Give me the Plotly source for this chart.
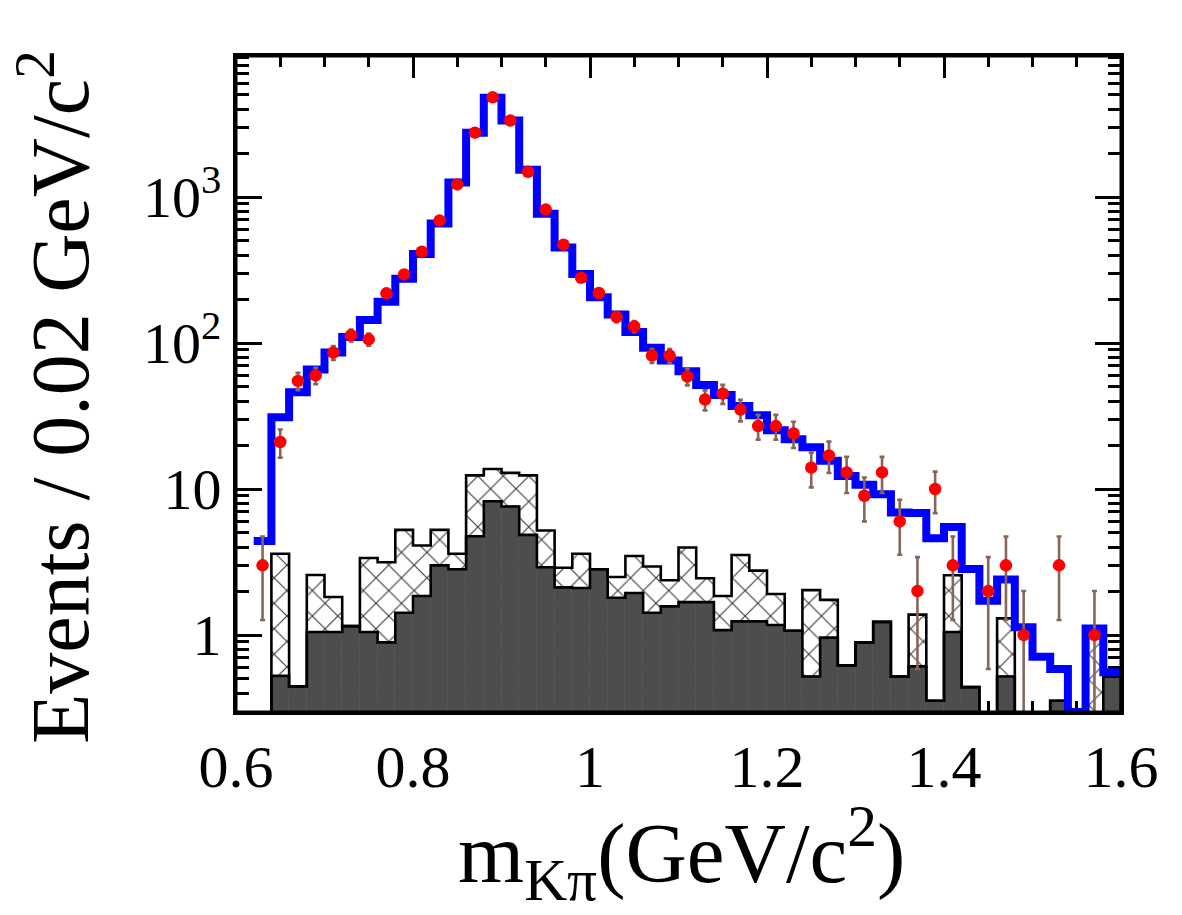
import math
import plotly.graph_objects as go

# ---------------- data ----------------
BIN_W = 0.02
bin_centers = [0.63, 0.65, 0.67, 0.69, 0.71, 0.73, 0.75, 0.77, 0.79, 0.81,
               0.83, 0.85, 0.87, 0.89, 0.91, 0.93, 0.95, 0.97, 0.99, 1.01,
               1.03, 1.05, 1.07, 1.09, 1.11, 1.13, 1.15, 1.17, 1.19, 1.21,
               1.23, 1.25, 1.27, 1.29, 1.31, 1.33, 1.35, 1.37, 1.39, 1.41,
               1.43, 1.45, 1.47, 1.49, 1.51, 1.53, 1.55, 1.57, 1.59]

data_counts = [3, 21, 55, 60, 86, 113, 106, 219, 295, 422,
               690, 1220, 2760, 4820, 3340, 1490, 820, 472, 280, 220,
               151, 130, 82, 82, 59, 41, 45, 35, 27, 27,
               24, 14, 17, 13, 9, 13, 6, 2, 10, 3,
               0, 2, 3, 1, 0, 3, 0, 1, 0]

total_fit = [4.4, 31, 46, 66, 86, 110, 144, 192, 276, 408,
             658, 1260, 2760, 4790, 3340, 1540, 767, 451, 297, 206,
             157, 119, 93, 76, 64, 51.5, 44, 37, 32, 25.3,
             21.9, 19.3, 15.6, 12.3, 10.7, 9.2, 6.9, 6.85, 4.6, 5.5,
             2.83, 1.72, 2.4, 1.13, 0.71, 0.585, 0.297, 1.11, 0.555]

# stacked background total (hatched outline)
bkg_total = [0, 3.6, 0.445, 2.58, 1.82, 1.15, 3.37, 3.15, 5.25, 4.1,
             5.25, 3.6, 12.4, 13.7, 12.9, 12.4, 5.2, 2.89, 3.6, 2.82,
             2.5, 3.48, 2.95, 2.37, 3.98, 2.45, 1.85, 3.53, 2.76, 1.91,
             1.07, 2.03, 1.74, 0.62, 0.89, 1.23, 0.52, 1.38, 0.355, 2.57,
             0.44, 0, 1.3, 0, 0, 0.355, 0, 1.04, 0.52]

# dark filled background component
bkg_dark = [0, 0.525, 0.445, 1.05, 1.05, 1.15, 1.05, 0.89, 1.42, 1.85,
            3.0, 2.82, 4.75, 8.25, 7.6, 4.85, 2.91, 2.12, 2.1, 2.82,
            1.8, 1.94, 1.42, 1.57, 1.68, 1.68, 1.08, 1.24, 1.24, 1.17,
            1.07, 0.52, 0.96, 0.62, 0.89, 1.23, 0.52, 0.61, 0.355, 1.05,
            0.44, 0, 0.52, 0, 0, 0.355, 0, 0, 0.52]

x_tickvals = [0.6, 0.8, 1.0, 1.2, 1.4, 1.6]
x_ticktext = ["0.6", "0.8", "1", "1.2", "1.4", "1.6"]
y_tickvals = [1, 10, 100, 1000]
y_ticktext = ["1", "10", "10<sup>2</sup>", "10<sup>3</sup>"]

FLOOR = 1e-3


def step_xy(centers, vals, close=False):
    lefts = [round(c - BIN_W / 2, 4) for c in centers]
    right = round(centers[-1] + BIN_W / 2, 4)
    xs = lefts + [right]
    ys = [v if v > 0 else FLOOR for v in vals]
    ys = ys + [ys[-1]]
    if close:
        xs = [xs[0]] + xs + [right]
        ys = [FLOOR] + ys + [FLOOR]
    return xs, ys


fig = go.Figure()

# hatched (stacked total) background
fig.add_trace(go.Bar(
    x=bin_centers, y=[v if v > 0 else None for v in bkg_total], width=BIN_W,
    marker=dict(color="white",
                pattern=dict(shape="x", fgcolor="#3a3a3a", bgcolor="white",
                             size=18, solidity=0.12, fillmode="replace"),
                line=dict(width=0)),
    hoverinfo="skip"))

# dark background
fig.add_trace(go.Bar(
    x=bin_centers, y=[v if v > 0 else None for v in bkg_dark], width=BIN_W,
    marker=dict(color="#4d4d4d", line=dict(width=0.6, color="#4d4d4d")),
    hoverinfo="skip"))

# outlines
hx, hy = step_xy(bin_centers, bkg_total, close=True)
fig.add_trace(go.Scatter(x=hx, y=hy, mode="lines", line_shape="hv",
                         line=dict(color="black", width=2.6), hoverinfo="skip"))
dx, dy = step_xy(bin_centers, bkg_dark, close=True)
fig.add_trace(go.Scatter(x=dx, y=dy, mode="lines", line_shape="hv",
                         line=dict(color="black", width=2.6), hoverinfo="skip"))

# total fit (blue)
bx, by = step_xy(bin_centers, total_fit)
fig.add_trace(go.Scatter(x=bx, y=by, mode="lines", line_shape="hv",
                         line=dict(color="#0000ff", width=8), hoverinfo="skip"))

# data points
px, py, eu, ed = [], [], [], []
for c, n in zip(bin_centers, data_counts):
    if n > 0:
        e = math.sqrt(n)
        px.append(c)
        py.append(n)
        eu.append(e)
        ed.append(e if n - e > 0 else n - 1e-3)
fig.add_trace(go.Scatter(
    x=px, y=py, mode="markers",
    marker=dict(color="#ff0000", size=12.5, line=dict(width=0)),
    error_y=dict(type="data", array=eu, arrayminus=ed, symmetric=False,
                 color="#87665a", thickness=2.6, width=2.5),
    hoverinfo="skip"))

font_family = "Liberation Serif"

fig.update_layout(
    width=1182, height=915,
    margin=dict(l=236, r=61, t=56, b=203),
    paper_bgcolor="white", plot_bgcolor="white",
    showlegend=False, barmode="overlay", bargap=0,
    font=dict(family=font_family, color="black"),
    xaxis=dict(
        range=[0.6, 1.6], tickmode="array", tickvals=x_tickvals, ticktext=x_ticktext,
        ticks="inside", ticklen=22, tickwidth=2.5, tickcolor="black",
        showline=True, linecolor="black", linewidth=3, mirror="allticks",
        showgrid=False, zeroline=False, layer="below traces",
        tickfont=dict(family=font_family, size=60, color="black"),
        minor=dict(tickmode="array",
                   tickvals=[0.65, 0.7, 0.75, 0.85, 0.9, 0.95, 1.05, 1.1, 1.15,
                             1.25, 1.3, 1.35, 1.45, 1.5, 1.55],
                   ticks="inside", ticklen=11, tickwidth=2.5, tickcolor="black",
                   showgrid=False),
    ),
    yaxis=dict(
        type="log", range=[math.log10(0.297), 3.966],
        tickmode="array", tickvals=y_tickvals, ticktext=y_ticktext,
        ticks="inside", ticklen=26, tickwidth=2.5, tickcolor="black",
        showline=True, linecolor="black", linewidth=3, mirror="allticks",
        showgrid=False, zeroline=False, layer="below traces",
        tickfont=dict(family=font_family, size=58, color="black"),
        minor=dict(tickmode="array",
                   tickvals=[0.3, 0.4, 0.5, 0.6, 0.7, 0.8, 0.9,
                             2, 3, 4, 5, 6, 7, 8, 9,
                             20, 30, 40, 50, 60, 70, 80, 90,
                             200, 300, 400, 500, 600, 700, 800, 900,
                             2000, 3000, 4000, 5000, 6000, 7000, 8000, 9000],
                   ticks="inside", ticklen=13, tickwidth=2.5, tickcolor="black",
                   showgrid=False),
    ),
    shapes=[dict(type="rect", xref="paper", yref="paper", x0=0, x1=1, y0=0, y1=1,
                 line=dict(color="black", width=3), fillcolor="rgba(0,0,0,0)",
                 layer="above")],
    annotations=[
        dict(text="Events / 0.02 GeV/c<sup>2</sup>", textangle=-90,
             xref="paper", yref="paper", x=-0.206, y=0.48,
             xanchor="center", yanchor="middle", showarrow=False,
             font=dict(family=font_family, size=82, color="black")),
        dict(text="m<sub>K\u03c0</sub>(GeV/c<sup>2</sup>)",
             xref="paper", yref="paper", x=0.503, y=-0.215,
             xanchor="center", yanchor="middle", showarrow=False,
             font=dict(family=font_family, size=85, color="black")),
    ],
)

fig.write_html("out.html")
